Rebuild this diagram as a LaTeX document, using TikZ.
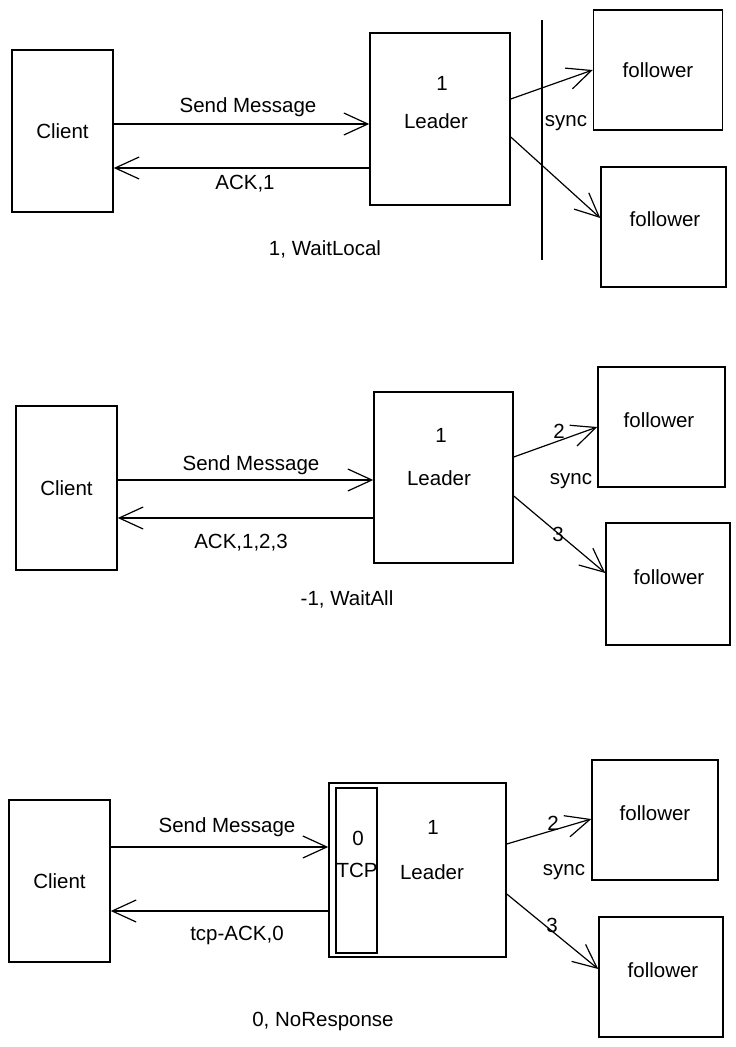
\documentclass[tikz,border=0pt]{standalone}
\usepackage{fontspec}
\setmainfont{Liberation Sans}
\usetikzlibrary{arrows.meta}

\begin{document}
\begin{tikzpicture}[
        x=1pt, y=-1pt,
        every node/.style={font=\fontsize{20.5}{22}\selectfont, inner sep=1pt},
        box/.style={draw, line width=1.5pt, inner sep=0pt},
        msg/.style={-{Straight Barb[length=24pt,width=22pt,line width=1.2pt]}, line width=1.2pt}
      ]
  \useasboundingbox (0,0) rectangle (736,1047);

  % 1, WaitLocal
  \node   (client1) [box,minimum width=101pt,minimum height=162pt] at (62.5,131) {Client};
  \node   (leader1) [box,minimum width=140pt,minimum height=172pt] at (440,119) {};
  \node   (one1) at (442,83) {1};
  \node   (lname1) at (436,121) {Leader};
  \node   (fa1) [box,minimum width=129pt,minimum height=120pt] at (658,70) {follower};
  \node   (fb1) [box,minimum width=125pt,minimum height=120pt] at (663.5,227) {};
  \node   (fbt1) at (665,219) {follower};
  \draw[line width=1.5pt] (542,20) -- (542,260);

  \draw[msg] (client1.east |- 0,124) -- (leader1.west |- 0,124);
  \draw[msg] (leader1.west |- 0,168) -- (client1.east |- 0,168);
  \draw[msg] (leader1.east |- 0,99) -- (fa1.west |- 0,70);
  \draw[msg] (leader1.east |- 0,137) -- (fb1.west |- 0,218);

  \node   (send1) at (248,107) {Send Message};
  \node   (ack1) at (245,184) {ACK,1};
  \node   (sync1) at (566,123) {sync};
  \node   (mode1) at (325,249) {1, WaitLocal};

  % -1, WaitAll
  \node   (client2) [box,minimum width=101pt,minimum height=164pt] at (66.5,488) {Client};
  \node   (leader2) [box,minimum width=139pt,minimum height=171pt] at (443.5,477.5) {};
  \node   (one2) at (441,435) {1};
  \node   (lname2) at (439,478) {Leader};
  \node   (fa2) [box,minimum width=127pt,minimum height=120pt] at (661.5,427) {};
  \node   (fat2) at (659,420) {follower};
  \node   (fb2) [box,minimum width=124pt,minimum height=122pt] at (668,584) {};
  \node   (fbt2) at (669,577) {follower};

  \draw[msg] (client2.east |- 0,480) -- (leader2.west |- 0,480);
  \draw[msg] (leader2.west |- 0,518) -- (client2.east |- 0,518);
  \draw[msg] (leader2.east |- 0,457) -- (fa2.west |- 0,427);
  \draw[msg] (leader2.east |- 0,496) -- (fb2.west |- 0,573);

  \node   (send2) at (251,465) {Send Message};
  \node   (ack2) at (241,543) {ACK,1,2,3};
  \node   (two2) at (559,431) {2};
  \node   (three2) at (558,534) {3};
  \node   (sync2) at (571,481) {sync};
  \node   (mode2) at (347,599) {-1, WaitAll};

  % 0, NoResponse
  \node   (client3) [box,minimum width=101pt,minimum height=162pt] at (59.5,881) {Client};
  \node   (leader3) [box,minimum width=177pt,minimum height=174pt] at (417.5,870) {};
  \node   (tcp3) [box,minimum width=41pt,minimum height=165pt] at (356.5,870.5) {};
  \node   (zero3) at (358,838) {0};
  \node   (tcpt3) at (357,870) {TCP};
  \node   (one3) at (433,827) {1};
  \node   (lname3) at (432,872) {Leader};
  \node   (fa3) [box,minimum width=126pt,minimum height=120pt] at (655,820) {};
  \node   (fat3) at (655,813) {follower};
  \node   (fb3) [box,minimum width=124pt,minimum height=120pt] at (661,977) {};
  \node   (fbt3) at (663,970) {follower};

  \draw[msg] (client3.east |- 0,847) -- (leader3.west |- 0,847);
  \draw[msg] (leader3.west |- 0,911) -- (client3.east |- 0,911);
  \draw[msg] (leader3.east |- 0,844) -- (fa3.west |- 0,819);
  \draw[msg] (leader3.east |- 0,894) -- (fb3.west |- 0,969);

  \node   (send3) at (227,827) {Send Message};
  \node   (ack3) at (237,935) {tcp-ACK,0};
  \node   (two3) at (553,823) {2};
  \node   (three3) at (552,925) {3};
  \node   (sync3) at (564,872) {sync};
  \node   (mode3) at (323,1021) {0, NoResponse};

\end{tikzpicture}
\end{document}
